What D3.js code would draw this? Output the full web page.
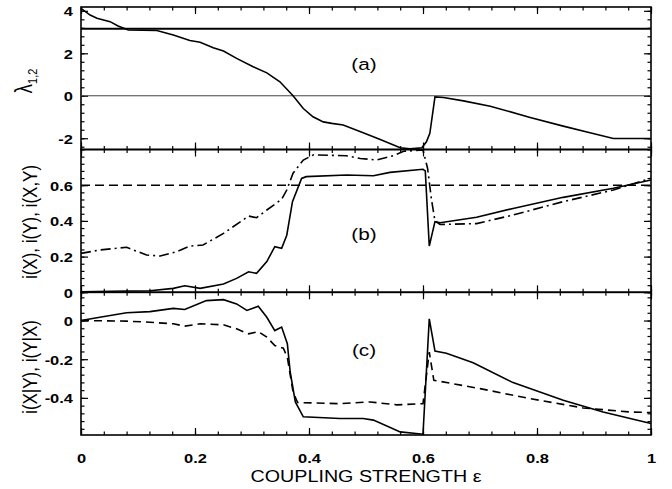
<!DOCTYPE html>
<html>
<head>
<meta charset="utf-8">
<script src="https://cdn.jsdelivr.net/npm/d3@7"></script>
<style>
  body { margin: 0; background: #fff; }
  svg { display: block; font-family: "Liberation Sans", Arial, Helvetica, sans-serif; }
</style>
</head>
<body>
<div id="chart"></div>
<script>
"use strict"

// coupling strength ticks
let xTicks = [0, 0.2, 0.4, 0.6, 0.8, 1];

// panel (a): largest lyapunov exponents
let lambdaVar = [[0, 4.12], [0.016, 3.8], [0.028, 3.65], [0.051, 3.49], [0.065, 3.29], [0.083, 3.1],
    [0.133, 3.07], [0.162, 2.86], [0.191, 2.6], [0.209, 2.52], [0.232, 2.26], [0.25, 2.11],
    [0.273, 1.76], [0.302, 1.37], [0.326, 1.08], [0.349, 0.66], [0.372, 0], [0.39, -0.6],
    [0.407, -0.99], [0.425, -1.23], [0.44, -1.3], [0.46, -1.38], [0.495, -1.74], [0.525, -2.06],
    [0.56, -2.45], [0.577, -2.5], [0.598, -2.45], [0.606, -2.17], [0.612, -1.77], [0.621, -0.05],
    [0.636, -0.08], [0.671, -0.24], [0.718, -0.49], [0.788, -1.02], [0.846, -1.43], [0.893, -1.74],
    [0.934, -2.01], [1, -2.01]];
let lambdaConst = 3.16;
let aTicks = [-2, 0, 2, 4];

// panel (b): i(X), i(Y), i(X,Y)
let bSolid = [[0, 0.003], [0.08, 0.007], [0.121, 0.009], [0.162, 0.022], [0.182, 0.037], [0.209, 0.022],
    [0.25, 0.047], [0.273, 0.078], [0.294, 0.115], [0.308, 0.106], [0.326, 0.172], [0.34, 0.256],
    [0.352, 0.246], [0.361, 0.32], [0.371, 0.508], [0.387, 0.638], [0.395, 0.648], [0.466, 0.657],
    [0.513, 0.653], [0.542, 0.672], [0.6, 0.689], [0.604, 0.68], [0.611, 0.259], [0.621, 0.396],
    [0.63, 0.39], [0.694, 0.42], [0.758, 0.47], [0.846, 0.532], [0.934, 0.583], [1, 0.629]];
let bDashDot = [[0, 0.218], [0.033, 0.237], [0.08, 0.252], [0.115, 0.209], [0.139, 0.203], [0.168, 0.228],
    [0.191, 0.259], [0.214, 0.265], [0.25, 0.33], [0.294, 0.427], [0.308, 0.418], [0.326, 0.461],
    [0.352, 0.521], [0.361, 0.573], [0.372, 0.667], [0.39, 0.741], [0.408, 0.77], [0.465, 0.765],
    [0.49, 0.75], [0.519, 0.741], [0.548, 0.765], [0.566, 0.79], [0.6, 0.797], [0.608, 0.695],
    [0.615, 0.517], [0.621, 0.4], [0.63, 0.38], [0.694, 0.385], [0.758, 0.433], [0.846, 0.508],
    [0.934, 0.573], [1, 0.639]];
let bDashed = 0.6;
let bTicks = [0, 0.2, 0.4, 0.6];

// panel (c): i(X|Y), i(Y|X)
let cSolid = [[0, 0], [0.033, 0.017], [0.08, 0.04], [0.121, 0.046], [0.162, 0.063], [0.182, 0.057],
    [0.22, 0.103], [0.25, 0.108], [0.273, 0.086], [0.291, 0.052], [0.311, 0.074], [0.326, 0.017],
    [0.34, -0.052], [0.352, -0.034], [0.362, -0.12], [0.367, -0.266], [0.376, -0.421], [0.39, -0.498],
    [0.454, -0.507], [0.495, -0.507], [0.513, -0.515], [0.56, -0.576], [0.6, -0.588], [0.611, 0.009],
    [0.621, -0.158], [0.641, -0.169], [0.688, -0.218], [0.758, -0.321], [0.846, -0.412],
    [0.916, -0.473], [1, -0.533]];
let cDashed = [[0, 0], [0.08, -0.003], [0.121, -0.009], [0.162, -0.017], [0.182, -0.029], [0.209, -0.017],
    [0.25, -0.022], [0.273, -0.043], [0.294, -0.069], [0.311, -0.057], [0.326, -0.086], [0.34, -0.129],
    [0.355, -0.143], [0.362, -0.19], [0.372, -0.37], [0.38, -0.424], [0.454, -0.43], [0.507, -0.421],
    [0.554, -0.436], [0.6, -0.43], [0.611, -0.163], [0.619, -0.309], [0.7, -0.352], [0.788, -0.404],
    [0.881, -0.452], [0.963, -0.473], [1, -0.476]];
let cTicks = [-0.4, -0.2, 0];

/* drawing canvas */
let drawing = d3.select("#chart")
    .append("svg")
    .attr("width", 672)
    .attr("height", 489);

let left = 81, right = 651;
let sx = 1.22; // the original lettering is a bit wide
let x = d3.scaleLinear().domain([0, 1]).range([left, right]);

// three stacked panels
let panels = [
    { top: 7, bottom: 149.5, domain: [-2.53, 4.18], ticks: aTicks, minor: 0.4, label: "(a)", labelY: 70 },
    { top: 149.5, bottom: 292.3, domain: [0, 0.8], ticks: bTicks, minor: 0.04, label: "(b)", labelY: 240 },
    { top: 292.3, bottom: 435, domain: [-0.592, 0.146], ticks: cTicks, minor: 0.04, label: "(c)", labelY: 356 }
];
panels.forEach(p => {
    p.y = d3.scaleLinear().domain(p.domain).range([p.bottom, p.top]);
});

let xMinor = d3.range(0, 1.0001, 0.04);

function minorValues(domain, step) {
    let start = Math.ceil(domain[0] / step - 1e-6) * step;
    return d3.range(start, domain[1] + 1e-9, step);
}

function styleAxis(g) {
    g.select(".domain").remove();
    g.selectAll(".tick line").attr("stroke", "#000").attr("stroke-width", 1.2);
}

panels.forEach((p, i) => {
    let g = drawing.append("g");

    // minor ticks, all inward
    let yMinor = minorValues(p.domain, p.minor);
    g.append("g").attr("transform", `translate(0,${p.bottom})`)
        .call(d3.axisBottom(x).tickValues(xMinor).tickSize(-3.5).tickFormat("")).call(styleAxis);
    g.append("g").attr("transform", `translate(0,${p.top})`)
        .call(d3.axisTop(x).tickValues(xMinor).tickSize(-3.5).tickFormat("")).call(styleAxis);
    g.append("g").attr("transform", `translate(${left},0)`)
        .call(d3.axisLeft(p.y).tickValues(yMinor).tickSize(-3.5).tickFormat("")).call(styleAxis);
    g.append("g").attr("transform", `translate(${right},0)`)
        .call(d3.axisRight(p.y).tickValues(yMinor).tickSize(-3.5).tickFormat("")).call(styleAxis);

    // major ticks
    g.append("g").attr("transform", `translate(0,${p.bottom})`)
        .call(d3.axisBottom(x).tickValues(xTicks).tickSize(-7).tickFormat("")).call(styleAxis);
    g.append("g").attr("transform", `translate(0,${p.top})`)
        .call(d3.axisTop(x).tickValues(xTicks).tickSize(-7).tickFormat("")).call(styleAxis);
    g.append("g").attr("transform", `translate(${right},0)`)
        .call(d3.axisRight(p.y).tickValues(p.ticks).tickSize(-7).tickFormat("")).call(styleAxis);

    let yAxis = g.append("g").attr("transform", `translate(${left},0)`)
        .call(d3.axisLeft(p.y).tickValues(p.ticks).tickSize(-7).tickFormat(d => String(d)))
        .call(styleAxis);
    yAxis.selectAll(".tick text")
        .attr("x", 0).attr("dy", "0.36em")
        .attr("transform", `translate(-8,0) scale(${sx},1)`)
        .attr("text-anchor", "end")
        .attr("font-size", 13.5).attr("font-weight", "bold").attr("fill", "#000")
        .attr("font-family", "Liberation Sans, Arial, sans-serif");

    // frame
    g.append("rect")
        .attr("x", left).attr("y", p.top)
        .attr("width", right - left).attr("height", p.bottom - p.top)
        .attr("fill", "none").attr("stroke", "#000").attr("stroke-width", 1.6);

    // panel label
    drawing.append("text")
        .attr("transform", `translate(364,${p.labelY}) scale(${sx},1)`)
        .attr("text-anchor", "middle")
        .attr("font-size", 17)
        .text(p.label);
});

// x tick labels on bottom panel
let xAxis = drawing.append("g").attr("transform", `translate(0,${panels[2].bottom})`)
    .call(d3.axisBottom(x).tickValues(xTicks).tickSize(0).tickFormat(d => String(d)))
    .call(g => g.select(".domain").remove());
xAxis.selectAll(".tick text")
    .attr("y", 0).attr("dy", null)
    .attr("transform", `translate(0,28) scale(${sx},1)`)
    .attr("font-size", 13.5).attr("font-weight", "bold").attr("fill", "#000")
    .attr("font-family", "Liberation Sans, Arial, sans-serif");

function lineFor(p) {
    return d3.line().x(d => x(d[0])).y(d => p.y(d[1]));
}

// panel (a)
let pa = panels[0];
drawing.append("line")
    .attr("x1", left).attr("x2", right)
    .attr("y1", pa.y(0)).attr("y2", pa.y(0))
    .attr("stroke", "#444").attr("stroke-width", 1);
drawing.append("line")
    .attr("x1", left).attr("x2", right)
    .attr("y1", pa.y(lambdaConst)).attr("y2", pa.y(lambdaConst))
    .attr("stroke", "#000").attr("stroke-width", 2);
drawing.append("path")
    .attr("d", lineFor(pa)(lambdaVar))
    .attr("fill", "none").attr("stroke", "#000").attr("stroke-width", 1.6);

// panel (b)
let pb = panels[1];
drawing.append("line")
    .attr("x1", left).attr("x2", right)
    .attr("y1", pb.y(bDashed)).attr("y2", pb.y(bDashed))
    .attr("stroke", "#000").attr("stroke-width", 1.6)
    .attr("stroke-dasharray", "9,5");
drawing.append("path")
    .attr("d", lineFor(pb)(bDashDot))
    .attr("fill", "none").attr("stroke", "#000").attr("stroke-width", 1.6)
    .attr("stroke-dasharray", "10,4,2,4");
drawing.append("path")
    .attr("d", lineFor(pb)(bSolid))
    .attr("fill", "none").attr("stroke", "#000").attr("stroke-width", 1.6);

// panel (c)
let pc = panels[2];
drawing.append("path")
    .attr("d", lineFor(pc)(cDashed))
    .attr("fill", "none").attr("stroke", "#000").attr("stroke-width", 1.6)
    .attr("stroke-dasharray", "8,5");
drawing.append("path")
    .attr("d", lineFor(pc)(cSolid))
    .attr("fill", "none").attr("stroke", "#000").attr("stroke-width", 1.6);

// axis titles
let lam = drawing.append("text")
    .attr("transform", `translate(32,81) scale(${sx},1) rotate(-90)`)
    .attr("text-anchor", "middle")
    .attr("font-size", 19);
lam.append("tspan").text("λ");
lam.append("tspan").attr("font-size", 11).attr("dy", 4).text("1,2");

drawing.append("text")
    .attr("transform", `translate(37,222) scale(${sx},1) rotate(-90)`)
    .attr("text-anchor", "middle")
    .attr("font-size", 17)
    .text("i(X), i(Y), i(X,Y)");

drawing.append("text")
    .attr("transform", `translate(37,367) scale(${sx},1) rotate(-90)`)
    .attr("text-anchor", "middle")
    .attr("font-size", 17)
    .text("i(X|Y), i(Y|X)");

drawing.append("text")
    .attr("transform", `translate(366,482) scale(${sx * 0.95},1)`)
    .attr("text-anchor", "middle")
    .attr("font-size", 17)
    .text("COUPLING STRENGTH ε");
</script>
</body>
</html>
